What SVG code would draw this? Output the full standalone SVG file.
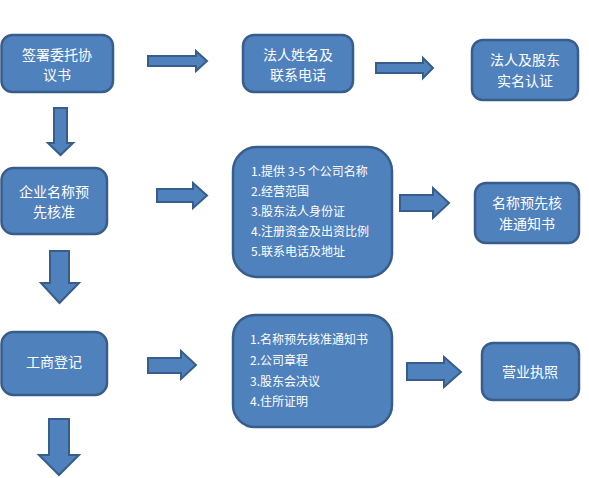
<svg xmlns="http://www.w3.org/2000/svg" width="589" height="478" viewBox="0 0 589 478">
<style>
.box{fill:#4F81BD;stroke:#385D8A;stroke-width:2.5}
.arr{fill:#4F81BD;stroke:#385D8A;stroke-width:2;stroke-linejoin:miter}
.t{fill:#fff;font-family:"Noto Sans CJK SC","Noto Sans",sans-serif;font-size:14px;text-anchor:middle}
.l{fill:#fff;font-family:"Noto Sans CJK SC","Noto Sans",sans-serif;font-size:12px}
</style>
<rect width="589" height="478" fill="#fff"/>
<g id="n1"><rect class="box" x="1.5" y="35" width="111.5" height="57" rx="11"/>
<text class="t" x="57" y="60">签署委托协</text><text class="t" x="57" y="80">议书</text></g>
<g id="n2"><rect class="box" x="243" y="35" width="110" height="57" rx="11"/>
<text class="t" x="298" y="60">法人姓名及</text><text class="t" x="298" y="80">联系电话</text></g>
<g id="n3"><rect class="box" x="472" y="40" width="106" height="60" rx="11"/>
<text class="t" x="525" y="65">法人及股东</text><text class="t" x="525" y="86">实名认证</text></g>
<g id="n4"><rect class="box" x="1.5" y="168" width="105.5" height="66" rx="12"/>
<text class="t" x="54" y="197">企业名称预</text><text class="t" x="54" y="217">先核准</text></g>
<g id="n5"><rect class="box" x="233" y="147" width="159" height="130" rx="24"/>
<text class="l" x="251" y="176">1.提供 3-5 个公司名称</text>
<text class="l" x="251" y="196">2.经营范围</text>
<text class="l" x="251" y="216">3.股东法人身份证</text>
<text class="l" x="251" y="236">4.注册资金及出资比例</text>
<text class="l" x="251" y="256">5.联系电话及地址</text></g>
<g id="n6"><rect class="box" x="475" y="183" width="104" height="60" rx="11"/>
<text class="t" x="527" y="208">名称预先核</text><text class="t" x="527" y="229">准通知书</text></g>
<g id="n7"><rect class="box" x="1.5" y="332" width="105.5" height="63" rx="12"/>
<text class="t" x="54" y="367">工商登记</text></g>
<g id="n8"><rect class="box" x="233" y="315" width="159" height="112" rx="22"/>
<text class="l" x="250" y="344">1.名称预先核准通知书</text>
<text class="l" x="250" y="365">2.公司章程</text>
<text class="l" x="250" y="386">3.股东会决议</text>
<text class="l" x="250" y="406">4.住所证明</text></g>
<g id="n9"><rect class="box" x="482" y="343" width="97" height="57" rx="11"/>
<text class="t" x="530" y="377">营业执照</text></g>
<g id="connectors">
<polygon class="arr" points="148,56 196,56 196,51 207,61 196,71 196,66 148,66"/>
<polygon class="arr" points="376,63 423,63 423,58 433,68 423,78 423,73 376,73"/>
<polygon class="arr" points="54,108 67,108 67,143 73,143 60.5,155 48,143 54,143"/>
<polygon class="arr" points="157,189 193,189 193,183 207,195.5 193,208 193,202 157,202"/>
<polygon class="arr" points="50,251 69,251 69,283 79,283 59.5,303 41,283 50,283"/>
<polygon class="arr" points="400,195 433,195 433,188 449,203 433,218 433,211 400,211"/>
<polygon class="arr" points="148,358 181,358 181,351 196,365 181,379 181,373 148,373"/>
<polygon class="arr" points="407,363 444,363 444,357 461,372 444,387 444,380 407,380"/>
<polygon class="arr" points="49,419 69,419 69,455 79,455 59,475 39,455 49,455"/>
</g>
</svg>
